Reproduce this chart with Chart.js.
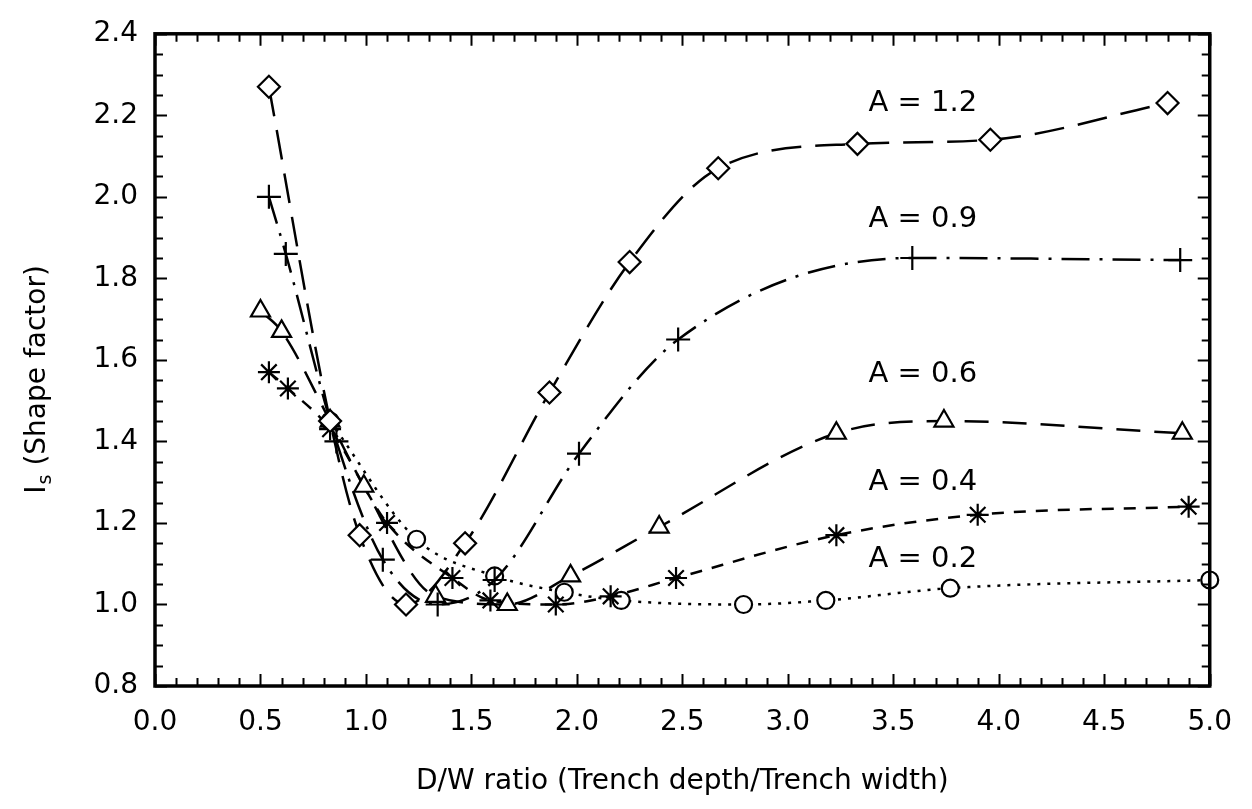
<!DOCTYPE html>
<html>
<head>
<meta charset="utf-8">
<script src="https://cdn.jsdelivr.net/npm/chart.js@4.4.1/dist/chart.umd.min.js"></script>
<style>
  html, body { margin: 0; padding: 0; background: #fff; }
</style>
</head>
<body>
<canvas id="chart" width="1252" height="809"></canvas>
<script>
// D/W ratio (x) and shape factor Is (y), one pair of arrays per A value
const dw12 = [0.54, 0.83, 0.97, 1.19, 1.47, 1.87, 2.25, 2.67, 3.33, 3.96, 4.80];
const is12 = [2.27, 1.45, 1.17, 1.00, 1.15, 1.52, 1.84, 2.07, 2.13, 2.14, 2.23];

const dw09 = [0.54, 0.62, 0.86, 1.08, 1.34, 1.61, 2.01, 2.48, 3.59, 4.86];
const is09 = [2.00, 1.86, 1.40, 1.11, 1.00, 1.06, 1.37, 1.65, 1.85, 1.845];

const dw06 = [0.50, 0.60, 0.83, 0.99, 1.33, 1.67, 1.97, 2.39, 3.23, 3.74, 4.87];
const is06 = [1.72, 1.67, 1.45, 1.29, 1.02, 1.00, 1.07, 1.19, 1.42, 1.45, 1.42];

const dw04 = [0.54, 0.63, 0.83, 1.10, 1.41, 1.59, 1.90, 2.16, 2.47, 3.23, 3.90, 4.90];
const is04 = [1.57, 1.53, 1.43, 1.20, 1.065, 1.01, 1.00, 1.02, 1.065, 1.17, 1.22, 1.24];

const dw02 = [0.83, 1.24, 1.61, 1.94, 2.21, 2.79, 3.18, 3.77, 5.00];
const is02 = [1.45, 1.16, 1.07, 1.03, 1.01, 1.00, 1.01, 1.04, 1.06];

const seriesNames = ['A = 1.2', 'A = 0.9', 'A = 0.6', 'A = 0.4', 'A = 0.2'];

const FONT = 'DejaVu Sans';

function pts(xs, ys) {
    return xs.map((x, i) => ({ x: x, y: ys[i] }));
}

function isMajor(v, step) {
    const r = v / step;
    return Math.abs(r - Math.round(r)) < 1e-6;
}

function series(label, data, style, radius, dash) {
    return {
        label: label,
        data: data,
        showLine: true,
        borderColor: '#000',
        backgroundColor: 'rgba(0,0,0,0)',
        borderWidth: 2.5,
        borderDash: dash,
        cubicInterpolationMode: 'monotone',
        pointStyle: style,
        pointRadius: radius,
        pointHoverRadius: radius,
        pointBorderWidth: 2.2,
        pointBorderColor: '#000',
        pointBackgroundColor: '#fff',
        clip: false
    };
}

// inward ticks on all four sides plus the box
const frameTicks = {
    id: 'frameTicks',
    afterDatasetsDraw(chart) {
        const { ctx, chartArea: a, scales: { x, y } } = chart;
        ctx.save();
        ctx.strokeStyle = '#000';
        ctx.lineWidth = 2;
        ctx.beginPath();
        x.ticks.forEach(t => {
            const px = Math.round(x.getPixelForValue(t.value)) + 0.5;
            const len = isMajor(t.value, 0.5) ? 12 : 8;
            ctx.moveTo(px, a.bottom); ctx.lineTo(px, a.bottom - len);
            ctx.moveTo(px, a.top); ctx.lineTo(px, a.top + len);
        });
        y.ticks.forEach(t => {
            const py = Math.round(y.getPixelForValue(t.value)) + 0.5;
            const len = isMajor(t.value, 0.2) ? 12 : 8;
            ctx.moveTo(a.left, py); ctx.lineTo(a.left + len, py);
            ctx.moveTo(a.right, py); ctx.lineTo(a.right - len, py);
        });
        ctx.stroke();
        ctx.lineWidth = 3.5;
        ctx.strokeRect(a.left, a.top, a.right - a.left, a.bottom - a.top);
        ctx.restore();
    }
};

// "A = ..." captions and the y axis title with its subscript
const captions = {
    id: 'captions',
    afterDraw(chart, args, opts) {
        const { ctx, chartArea: a, scales: { x, y } } = chart;
        ctx.save();
        ctx.fillStyle = '#000';
        ctx.font = '29px "' + FONT + '"';
        ctx.textAlign = 'center';
        ctx.textBaseline = 'middle';
        opts.spots.forEach((s, i) => {
            ctx.fillText(seriesNames[i], x.getPixelForValue(s[0]), y.getPixelForValue(s[1]));
        });

        ctx.translate(38, (a.top + a.bottom) / 2 + 20);
        ctx.rotate(-Math.PI / 2);
        const big = '28px "' + FONT + '"', small = '19px "' + FONT + '"';
        ctx.font = big;
        const w1 = ctx.measureText('I').width;
        const w3 = ctx.measureText(' (Shape factor)').width;
        ctx.font = small;
        const w2 = ctx.measureText('s').width;
        const x0 = -(w1 + w2 + w3) / 2;
        ctx.textAlign = 'left';
        ctx.font = big;
        ctx.fillText('I', x0, 0);
        ctx.font = small;
        ctx.fillText('s', x0 + w1 + 1, 8);
        ctx.font = big;
        ctx.fillText(' (Shape factor)', x0 + w1 + w2 + 1, 0);
        ctx.restore();
    }
};

new Chart(document.getElementById('chart'), {
    type: 'scatter',
    data: {
        datasets: [
            series(seriesNames[0], pts(dw12, is12), 'rectRot', 11, [30, 14]),
            series(seriesNames[1], pts(dw09, is09), 'cross', 12, [28, 10, 3, 10]),
            series(seriesNames[2], pts(dw06, is06), 'triangle', 11, [24, 14]),
            series(seriesNames[3], pts(dw04, is04), 'star', 11, [12, 10]),
            series(seriesNames[4], pts(dw02, is02), 'circle', 8.5, [3, 7])
        ]
    },
    plugins: [frameTicks, captions],
    options: {
        responsive: false,
        animation: false,
        layout: { padding: { top: 25, right: 26, left: 0, bottom: 0 } },
        plugins: {
            legend: { display: false },
            tooltip: { enabled: false },
            captions: {
                spots: [[3.64, 2.23], [3.64, 1.945], [3.64, 1.565], [3.64, 1.30], [3.64, 1.11]]
            }
        },
        scales: {
            x: {
                type: 'linear',
                min: 0,
                max: 5,
                afterFit: s => { s.height = 123; },
                grid: { display: false, drawTicks: false },
                border: { display: false },
                ticks: {
                    stepSize: 0.1,
                    maxTicksLimit: 100,
                    autoSkip: false,
                    maxRotation: 0,
                    padding: 20,
                    color: '#000',
                    font: { family: FONT, size: 28 },
                    callback: v => isMajor(v, 0.5) ? v.toFixed(1) : ''
                },
                title: {
                    display: true,
                    text: 'D/W ratio (Trench depth/Trench width)',
                    color: '#000',
                    font: { family: FONT, size: 28 },
                    padding: { top: 0, bottom: 10 }
                }
            },
            y: {
                type: 'linear',
                min: 0.8,
                max: 2.4,
                afterFit: s => { s.width = 155; },
                grid: { display: false, drawTicks: false },
                border: { display: false },
                ticks: {
                    stepSize: 0.05,
                    maxTicksLimit: 100,
                    autoSkip: false,
                    padding: 17,
                    color: '#000',
                    font: { family: FONT, size: 28 },
                    callback: v => isMajor(v, 0.2) ? v.toFixed(1) : ''
                }
            }
        }
    }
});
</script>
</body>
</html>
